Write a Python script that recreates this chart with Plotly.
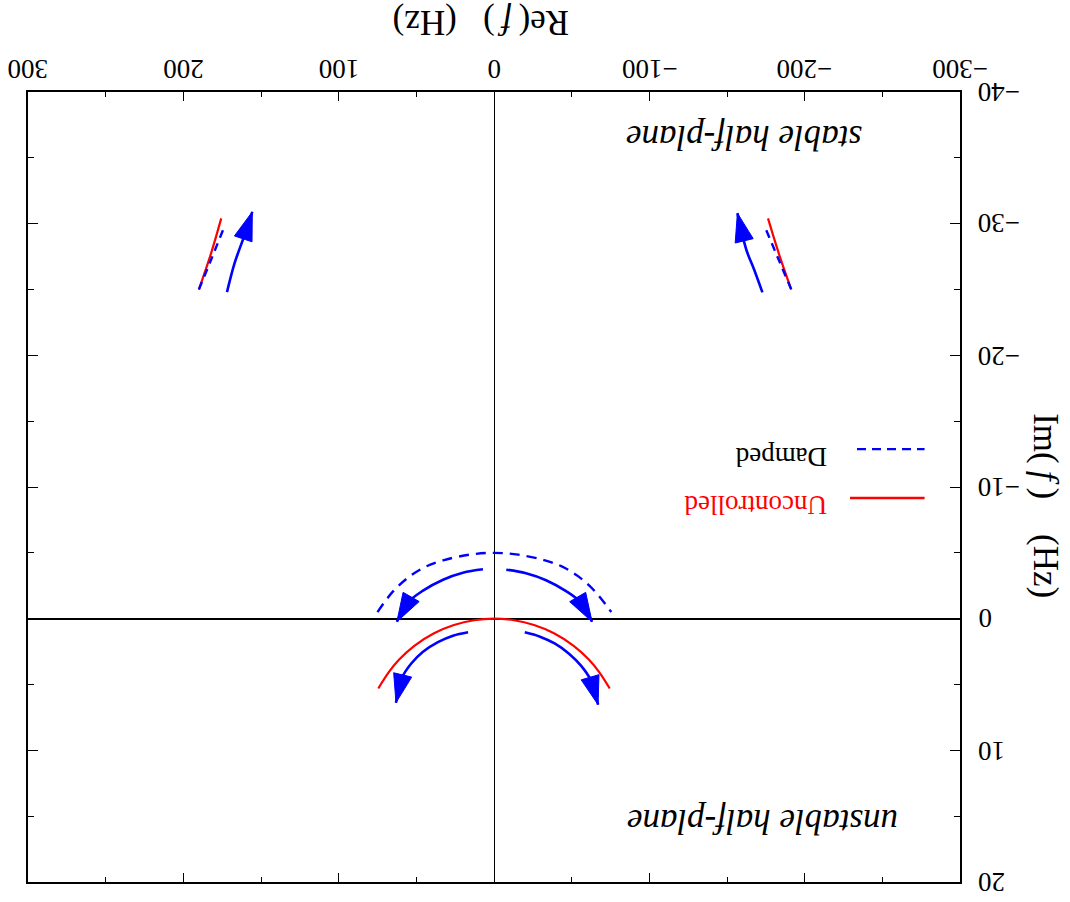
import plotly.graph_objects as go

# ---------------- data (Re(f), Im(f) in Hz) ----------------
# Uncontrolled locus near the origin
re_unc_origin = [74.5, 67.6, 61.2, 51.5, 38.6, 25.8, 12.9, 0, -12.9, -25.8, -38.6, -51.5, -61.2, -67.6, -74.5]
im_unc_origin = [5.3, 4.04, 3.12, 2.08, 1.11, 0.48, 0.12, 0, 0.12, 0.48, 1.11, 2.08, 3.12, 4.04, 5.3]
# Damped locus near the origin
re_damp_origin = [75, 65, 54.3, 43.6, 32.8, 15.6, 0, -15.6, -32.8, -43.6, -54.3, -65, -75.5]
im_damp_origin = [-0.5, -2.07, -3.21, -3.97, -4.43, -4.86, -5.0, -4.86, -4.43, -3.97, -3.21, -2.07, -0.5]
# Uncontrolled loci of the high-frequency poles
re_unc_pole_pos = [175.6, 182, 190]
im_unc_pole_pos = [-30.4, -27.8, -25.0]
re_unc_pole_neg = [-176.4, -184, -191.4]
im_unc_pole_neg = [-30.4, -27.5, -25.0]
# Damped loci of the high-frequency poles
re_damp_pole_pos = [174.5, 182, 190]
im_damp_pole_pos = [-29.5, -27.3, -25.0]
re_damp_pole_neg = [-175.3, -183.5, -191.4]
im_damp_pole_neg = [-29.5, -27.2, -25.0]

# Direction arrows (last point = arrow tip)
arrow_ul_re = [7.1, 20.0, 32.8, 45.7, 55.4, 62.5]
arrow_ul_im = [-3.75, -3.49, -2.96, -2.13, -1.23, 0.23]
arrow_ur_re = [-7.9, -20.6, -33.5, -46.4, -56.0, -63.1]
arrow_ur_im = [-3.72, -3.45, -2.92, -2.09, -1.21, 0.23]
arrow_ll_re = [16.7, 26.4, 36.1, 45.7, 53.4, 59.2, 63.1]
arrow_ll_im = [1.03, 1.29, 1.78, 2.51, 3.42, 4.48, 6.38]
arrow_lr_re = [-19.8, -29.6, -39.3, -48.3, -56.0, -62.5, -67.0]
arrow_lr_im = [1.04, 1.37, 1.90, 2.66, 3.57, 4.71, 6.53]
arrow_pp_re = [171.9, 167.0, 161.0, 155.6]
arrow_pp_im = [-24.8, -27.0, -29.0, -30.9]
arrow_pn_re = [-172.8, -167.5, -162.5, -156.7]
arrow_pn_im = [-24.78, -26.5, -28.0, -30.8]

x_ticks = [-300, -200, -100, 0, 100, 200, 300]
y_ticks = [-40, -30, -20, -10, 0, 10, 20]

BLUE = "#0000ff"
RED = "#ff0000"
FONT = "Liberation Serif"
NB = "\u00a0"
TH = "\u2009"


def fmt(v):
    return ("\u2212" + str(-v)) if v < 0 else str(v)


fig = go.Figure()


def line(xs, ys, color, width, dash="solid"):
    fig.add_trace(go.Scatter(x=xs, y=ys, mode="lines", showlegend=False,
                             hoverinfo="skip",
                             line=dict(color=color, width=width, dash=dash, shape="spline")))


line(re_unc_origin, im_unc_origin, RED, 2.2)
line(re_damp_origin, im_damp_origin, BLUE, 2.4, "10px,7px")
line(re_unc_pole_pos, im_unc_pole_pos, RED, 2.2)
line(re_unc_pole_neg, im_unc_pole_neg, RED, 2.2)
line(re_damp_pole_pos, im_damp_pole_pos, BLUE, 2.4, "8px,6px")
line(re_damp_pole_neg, im_damp_pole_neg, BLUE, 2.4, "8px,6px")

for axs, ays in [(arrow_ul_re, arrow_ul_im), (arrow_ur_re, arrow_ur_im),
                 (arrow_ll_re, arrow_ll_im), (arrow_lr_re, arrow_lr_im),
                 (arrow_pp_re, arrow_pp_im), (arrow_pn_re, arrow_pn_im)]:
    n = len(axs)
    fig.add_trace(go.Scatter(
        x=axs, y=ays, mode="lines+markers", showlegend=False, hoverinfo="skip",
        line=dict(color=BLUE, width=2.6, shape="spline"),
        marker=dict(symbol="arrow", angleref="previous", color=BLUE, opacity=1,
                    size=[0] * (n - 1) + [30], line=dict(width=1, color=BLUE))))

annotations = []
# tick labels (figure rotated by 180 degrees)
for v in x_ticks:
    annotations.append(dict(x=v, xref="x", y=1, yref="paper", yshift=23,
                            text=fmt(v), showarrow=False, textangle=180,
                            xanchor="center", yanchor="middle",
                            font=dict(family=FONT, size=27, color="black")))
for v in y_ticks:
    annotations.append(dict(x=1, xref="paper", xshift=16, y=v, yref="y",
                            text=fmt(v), showarrow=False, textangle=180,
                            xanchor="left", yanchor="middle",
                            font=dict(family=FONT, size=27, color="black")))

annotations += [
    dict(x=-161.3, y=-36.5, xref="x", yref="y", text="<i>stable half-plane</i>",
         xanchor="center", yanchor="middle",
         showarrow=False, textangle=180, font=dict(family=FONT, size=35, color="black")),
    dict(x=-173.2, y=15.4, xref="x", yref="y", text="<i>unstable half-plane</i>",
         xanchor="center", yanchor="middle",
         showarrow=False, textangle=180, font=dict(family=FONT, size=35, color="black")),
    dict(x=0.4866, y=1.0873, xref="paper", yref="paper",
         text="Re(" + TH + "<i>f</i>" + TH + ")" + NB * 3 + "(Hz)",
         xanchor="center", yanchor="middle",
         showarrow=False, textangle=180, font=dict(family=FONT, size=35, color="black")),
    dict(x=1.0923, y=0.477, xref="paper", yref="paper",
         text="Im(" + TH + "<i>f</i>" + TH + ")" + NB * 4 + "(Hz)",
         xanchor="center", yanchor="middle",
         showarrow=False, textangle=90, font=dict(family=FONT, size=35, color="black")),
    dict(x=0.780, y=0.477, xref="paper", yref="paper", text="Uncontrolled",
         xanchor="center", yanchor="middle",
         showarrow=False, textangle=180, font=dict(family=FONT, size=27, color=RED)),
    dict(x=0.808, y=0.538, xref="paper", yref="paper", text="Damped",
         xanchor="center", yanchor="middle",
         showarrow=False, textangle=180, font=dict(family=FONT, size=27, color="black")),
]

shapes = [
    dict(type="line", xref="paper", yref="paper", x0=0.882, x1=0.962, y0=0.486, y1=0.486,
         line=dict(color=RED, width=2.4)),
    dict(type="line", xref="paper", yref="paper", x0=0.8895, x1=0.962, y0=0.548, y1=0.548,
         line=dict(color=BLUE, width=2.4, dash="9px,6px")),
]

fig.update_layout(
    width=1070, height=902,
    margin=dict(l=28, r=110, t=92, b=20),
    paper_bgcolor="white", plot_bgcolor="white",
    showlegend=False,
    annotations=annotations, shapes=shapes,
    font=dict(family=FONT, color="black"),
    xaxis=dict(range=[300, -300], side="top", tickvals=x_ticks, showticklabels=False,
               showgrid=False, zeroline=True, zerolinecolor="black", zerolinewidth=1.3,
               showline=True, linecolor="black", linewidth=2, mirror="ticks",
               ticks="inside", ticklen=9, tickwidth=1.3, tickcolor="black",
               minor=dict(dtick=50, tick0=0, ticks="inside", ticklen=5, tickwidth=1.3,
                          tickcolor="black", showgrid=False)),
    yaxis=dict(range=[20, -40], side="right", tickvals=y_ticks, showticklabels=False,
               showgrid=False, zeroline=True, zerolinecolor="black", zerolinewidth=2.2,
               showline=True, linecolor="black", linewidth=2, mirror="ticks",
               ticks="inside", ticklen=10, tickwidth=1.3, tickcolor="black",
               minor=dict(dtick=5, tick0=0, ticks="inside", ticklen=6, tickwidth=1.3,
                          tickcolor="black", showgrid=False)),
)

fig.write_html("out.html")
